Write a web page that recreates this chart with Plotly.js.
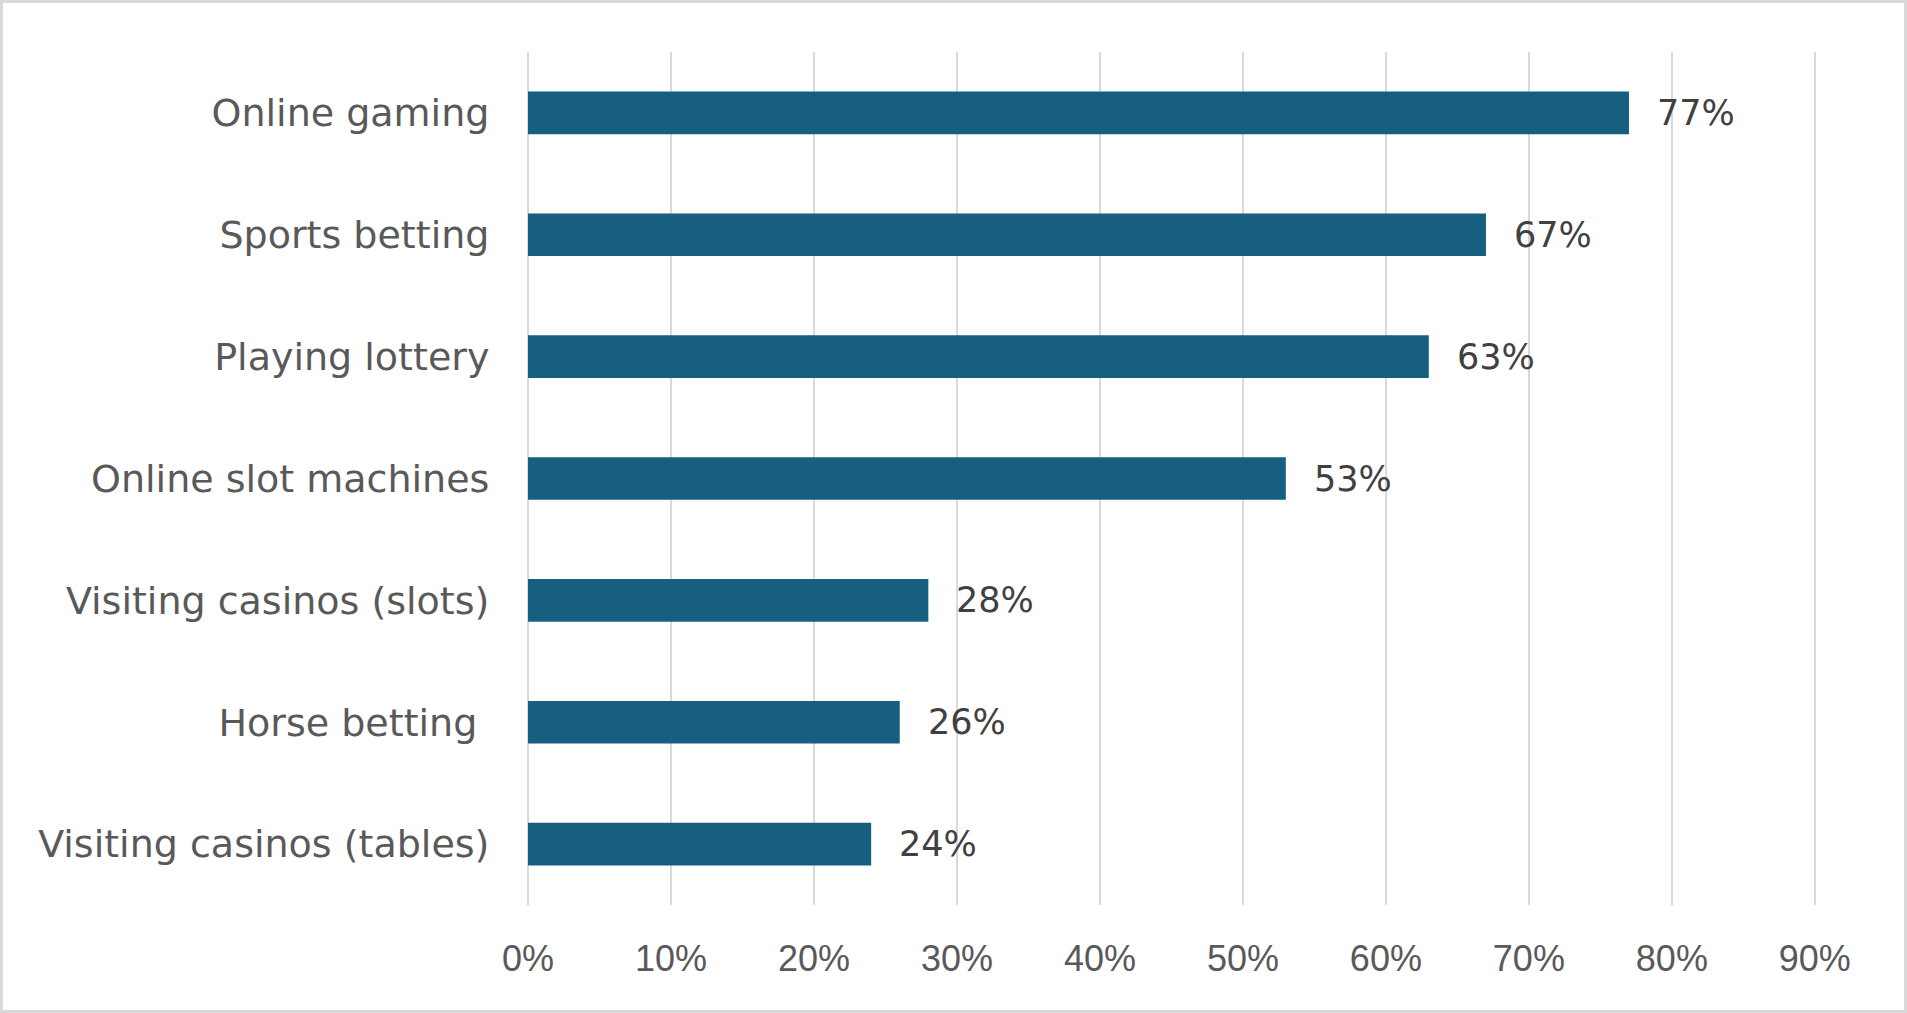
<!DOCTYPE html>
<html>
<head>
<meta charset="utf-8">
<script src="https://cdn.plot.ly/plotly-3.0.1.min.js"></script>
<style>
  body { margin: 0; background: #fff; }
  #chart { width: 1907px; height: 1013px; }
  #frame {
    position: absolute; left: 0; top: 0; width: 1907px; height: 1013px;
    box-sizing: border-box; border: 3px solid #d9d9d9; pointer-events: none;
  }
</style>
</head>
<body>
<div id="chart"></div>
<div id="frame"></div>
<script>
// categories top to bottom, share of respondents in %
const activities = [
  'Online gaming',
  'Sports betting',
  'Playing lottery',
  'Online slot machines',
  'Visiting casinos (slots)',
  'Horse betting\u00a0',
  'Visiting casinos (tables)'
];
const shares = [77, 67, 63, 53, 28, 26, 24];
const xTicks = [0, 10, 20, 30, 40, 50, 60, 70, 80, 90];

const barColor = '#175F80';

var trace = {
  type: 'bar',
  orientation: 'h',
  x: shares,
  y: activities,
  marker: { color: barColor },
  hoverinfo: 'none'
};

// value labels sit a little to the right of each bar
var labels = shares.map((v, i) => ({
  x: v,
  y: activities[i],
  xref: 'x',
  yref: 'y',
  text: v + '%',
  showarrow: false,
  xanchor: 'left',
  xshift: 26,
  font: { family: 'DejaVu Sans', size: 35, color: '#404040' }
}));

var layout = {
  width: 1907,
  height: 1013,
  margin: { l: 528, r: 85, t: 52, b: 108, pad: 0 },
  paper_bgcolor: '#ffffff',
  plot_bgcolor: '#ffffff',
  showlegend: false,
  bargap: 0.65,
  xaxis: {
    // a bit of room past 90 so the last gridline is not dropped at the edge
    range: [0, 90.5],
    tickvals: xTicks,
    ticktext: xTicks.map(t => t + '%'),
    showgrid: true,
    gridcolor: '#d9d9d9',
    gridwidth: 2.5,
    zeroline: true,
    zerolinecolor: '#d9d9d9',
    zerolinewidth: 2.5,
    showline: false,
    ticks: 'outside',
    ticklen: 22,
    tickcolor: 'rgba(0,0,0,0)',
    tickfont: { family: 'Liberation Sans, Arial', size: 36, color: '#595959' },
    fixedrange: true
  },
  yaxis: {
    type: 'category',
    autorange: 'reversed',
    showgrid: false,
    zeroline: false,
    showline: false,
    ticks: 'outside',
    ticklen: 30,
    tickcolor: 'rgba(0,0,0,0)',
    tickfont: { family: 'DejaVu Sans', size: 38, color: '#595959' },
    fixedrange: true
  },
  annotations: labels
};

Plotly.newPlot('chart', [trace], layout, { displayModeBar: false, staticPlot: true });
</script>
</body>
</html>
